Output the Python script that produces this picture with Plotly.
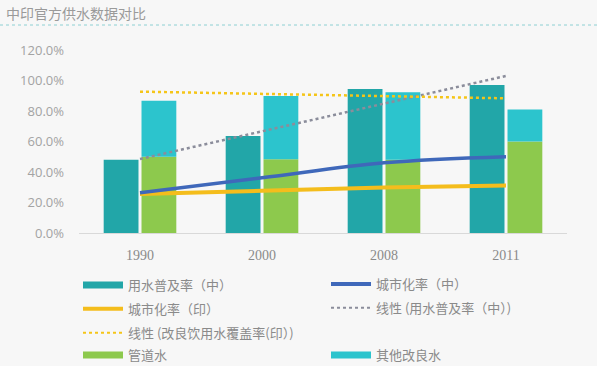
import plotly.graph_objects as go

# ---- data ----
years = ["1990", "2000", "2008", "2011"]
water_cn = [48.0, 63.6, 94.4, 97.0]          # 用水普及率（中）
pipe_in = [50.0, 48.3, 48.0, 60.0]           # 管道水
other_in = [36.8, 41.5, 44.3, 21.0]          # 其他改良水 (stacked on 管道水)
urban_cn = [26.4, 36.2, 46.0, 50.0]          # 城市化率（中）
urban_in = [25.5, 27.7, 29.9, 31.1]          # 城市化率（印）
trend_years = ["1990", "2011"]
trend_water_cn = [48.5, 103.0]               # 线性 (用水普及率（中）)
trend_improved_in = [92.7, 88.3]             # 线性 (改良饮用水覆盖率(印))
y_ticks = [0, 20, 40, 60, 80, 100, 120]
y_ticktext = [f"{v:.1f}%" for v in y_ticks]

C_TEAL = "#22A6A8"
C_GREEN = "#8DC94D"
C_CYAN = "#2CC4CD"
C_BLUE = "#3F68BA"
C_ORANGE = "#F4BD1C"
C_GRAY = "#8B8D9B"
C_YDOT = "#F5C518"

CJK = "Noto Sans CJK SC"
W, H = 597, 366

fig = go.Figure()

# bars
fig.add_trace(go.Bar(x=years, y=water_cn, marker_color=C_TEAL, offsetgroup="a",
                     showlegend=False, marker_line_width=0))
fig.add_trace(go.Bar(x=years, y=pipe_in, marker_color=C_GREEN, offsetgroup="b",
                     showlegend=False, marker_line_width=0))
fig.add_trace(go.Bar(x=years, y=other_in, base=pipe_in, marker_color=C_CYAN, offsetgroup="b",
                     showlegend=False, marker_line_width=0))

# lines
fig.add_trace(go.Scatter(x=trend_years, y=trend_water_cn, mode="lines",
                         line=dict(color=C_GRAY, width=2.5, dash="dot"), showlegend=False))
fig.add_trace(go.Scatter(x=trend_years, y=trend_improved_in, mode="lines",
                         line=dict(color=C_YDOT, width=2.5, dash="dot"), showlegend=False))
fig.add_trace(go.Scatter(x=years, y=urban_in, mode="lines", line=dict(color=C_ORANGE, width=4, shape="spline"),
                         showlegend=False))
fig.add_trace(go.Scatter(x=years, y=urban_cn, mode="lines", line=dict(color=C_BLUE, width=3.5, shape="spline"),
                         showlegend=False))

# legend entries
def leg(name, color, width, legend, group, dash="solid"):
    fig.add_trace(go.Scatter(x=[None], y=[None], mode="lines", name=name,
                             line=dict(color=color, width=width, dash=dash),
                             legend=legend, legendgroup=group))

leg("用水普及率（中）", C_TEAL, 7, "legend", "g1")
leg("城市化率（印）", C_ORANGE, 4, "legend", "g2")
leg("线性 (改良饮用水覆盖率(印）)", C_YDOT, 2, "legend", "g3", "dot")
leg("城市化率（中）", C_BLUE, 4, "legend2", "h1")
leg("线性 (用水普及率（中）)", C_GRAY, 2, "legend2", "h2", "dot")
leg("管道水", C_GREEN, 7, "legend3", "k1")
leg("其他改良水", C_CYAN, 7, "legend4", "k2")

legfont = dict(family=CJK, size=13, color="#8A8A8A")
common = dict(font=legfont, bgcolor="rgba(0,0,0,0)", itemwidth=40, tracegroupgap=4,
              traceorder="grouped", orientation="v", xanchor="left", yanchor="middle",
              xref="container", yref="container")
X1, X2 = 78 / W, 326 / W

fig.update_layout(
    width=W, height=H,
    paper_bgcolor="#F7F7F7", plot_bgcolor="#F7F7F7",
    margin=dict(l=79, r=30, t=50, b=133, autoexpand=False),
    barmode="group", bargap=0.38, bargroupgap=0.08,
    legend=dict(x=X1, y=1 - 309 / H, **common),
    legend2=dict(x=X2, y=1 - 296 / H, **common),
    legend3=dict(x=X1, y=1 - 355 / H, **common),
    legend4=dict(x=X2, y=1 - 355 / H, **common),
    xaxis=dict(type="category", showgrid=False, showline=True, linecolor="#D9D9D9", linewidth=1,
               ticks="", tickfont=dict(family="Liberation Serif", size=14, color="#8A8A8A"),
               ticklabelstandoff=9),
    yaxis=dict(range=[0, 120], tickvals=y_ticks, ticktext=y_ticktext,
               showgrid=False, zeroline=False, showline=False, ticks="",
               tickfont=dict(family="Open Sans", size=13, color="#A3A3A3"), ticklabelstandoff=14),
    annotations=[dict(text="中印官方供水数据对比", xref="paper", yref="paper",
                      x=-79/488, y=(233-13)/183, xanchor="left", yanchor="middle", showarrow=False,
                      font=dict(family=CJK, size=14, color="#9A9A9A"), xshift=4)],
    shapes=[dict(type="line", xref="paper", yref="paper", x0=-79/488, x1=(W-79)/488,
                 y0=(233-25)/183, y1=(233-25)/183, line=dict(color="#8ED0D3", width=1, dash="dot"))],
)

fig.write_html("out.html", config={"displayModeBar": False},
               post_script="document.body.style.margin='0px';")
